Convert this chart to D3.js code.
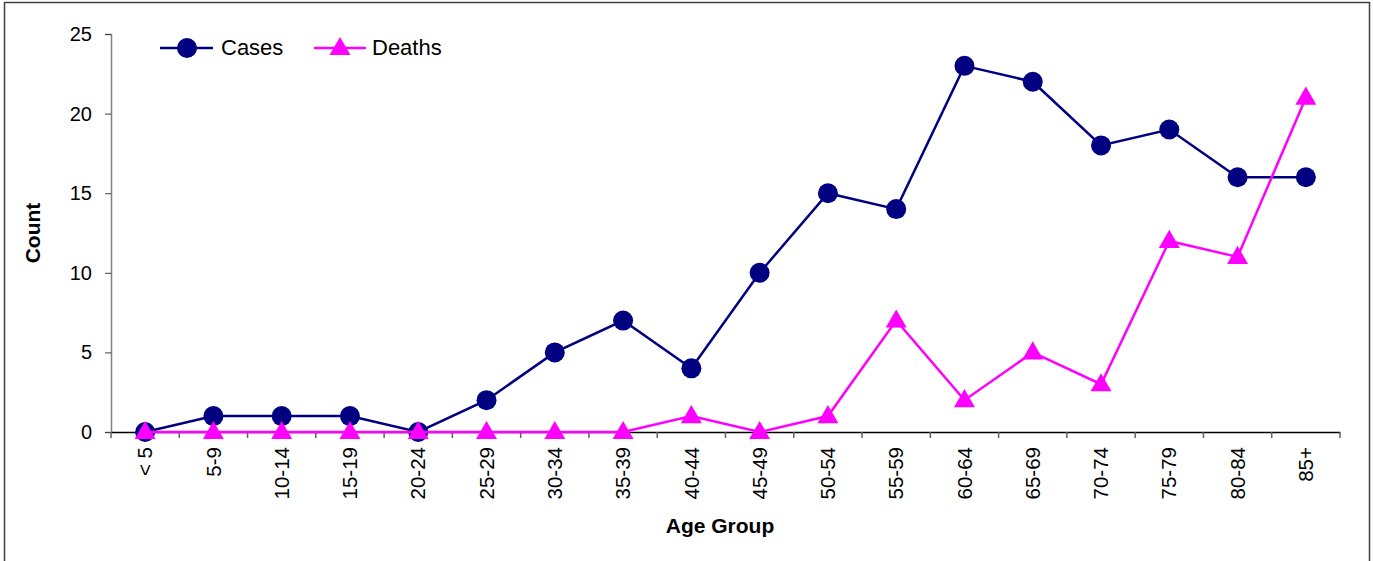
<!DOCTYPE html>
<html><head><meta charset="utf-8">
<script src="https://cdn.jsdelivr.net/npm/d3@7"></script>
<style>body{margin:0;background:#fff}svg{display:block}text{font-family:"Liberation Sans",Arial,sans-serif}</style>
</head><body>
<svg id="c" width="1373" height="561"></svg>
<script>
const categories = ["< 5","5-9","10-14","15-19","20-24","25-29","30-34","35-39","40-44","45-49","50-54","55-59","60-64","65-69","70-74","75-79","80-84","85+"];
const cases = [0,1,1,1,0,2,5,7,4,10,15,14,23,22,18,19,16,16];
const deaths = [0,0,0,0,0,0,0,0,1,0,1,7,2,5,3,12,11,21];
const yTicks = [0,5,10,15,20,25];

const svg = d3.select("#c");
svg.append("rect").attr("x",4.5).attr("y",2.5).attr("width",1365).attr("height",570)
  .attr("fill","#fff").attr("stroke","#404040").attr("stroke-width",1.5);

const x = d3.scaleBand().domain(categories).range([111,1340]);
const y = d3.scaleLinear().domain([0,25]).range([432,34]);

const yAxis = svg.append("g").attr("transform","translate(111,0)")
  .call(d3.axisLeft(y).tickValues(yTicks).tickSize(6).tickPadding(13));
yAxis.select(".domain").attr("stroke","#808080").attr("stroke-width",1.5);
yAxis.selectAll(".tick line").attr("stroke","#404040");
yAxis.selectAll("text").attr("font-size",20).attr("fill","#000");

const xAxis = svg.append("g").attr("transform","translate(0,432)")
  .call(d3.axisBottom(x).tickSize(0).tickSizeOuter(0));
xAxis.select(".domain").attr("stroke","#000").attr("stroke-width",1.5);
xAxis.selectAll(".tick text").attr("font-size",20.5).attr("fill","#000")
  .attr("transform","rotate(-90)").attr("text-anchor","end").attr("x",-15).attr("y",0).attr("dy","0.35em");
// category boundary ticks
const bounds = categories.map(c=>x(c)).concat([x.range()[1]]);
svg.append("g").selectAll("line").data(bounds).join("line")
  .attr("x1",d=>d).attr("x2",d=>d).attr("y1",432).attr("y2",438).attr("stroke","#606060").attr("stroke-width",1.5);

const cx = c => x(c) + x.bandwidth()/2;

// Cases
svg.append("path").datum(cases).attr("fill","none").attr("stroke","#000080").attr("stroke-width",2.5)
  .attr("d", d3.line().x((d,i)=>cx(categories[i])).y(d=>y(d)));
svg.append("g").selectAll("circle").data(cases).join("circle")
  .attr("cx",(d,i)=>cx(categories[i])).attr("cy",d=>y(d)).attr("r",10).attr("fill","#000080");

// Deaths
const tri = d3.symbol().type(d3.symbolTriangle).size(190);
svg.append("path").datum(deaths).attr("fill","none").attr("stroke","#FF00FF").attr("stroke-width",2.5)
  .attr("d", d3.line().x((d,i)=>cx(categories[i])).y(d=>y(d)));
svg.append("g").selectAll("path").data(deaths).join("path")
  .attr("d",tri).attr("transform",(d,i)=>`translate(${cx(categories[i])},${y(d)+1})`).attr("fill","#FF00FF");

// Axis titles
svg.append("text").attr("transform","translate(40,233) rotate(-90)").attr("text-anchor","middle")
  .attr("font-size",21).attr("font-weight","bold").text("Count");
svg.append("text").attr("x",720).attr("y",533).attr("text-anchor","middle")
  .attr("font-size",21).attr("font-weight","bold").text("Age Group");

// Legend
const lg = svg.append("g");
lg.append("line").attr("x1",160).attr("x2",213).attr("y1",48).attr("y2",48).attr("stroke","#000080").attr("stroke-width",2.5);
lg.append("circle").attr("cx",187).attr("cy",48).attr("r",10).attr("fill","#000080");
lg.append("text").attr("x",221).attr("y",55).attr("font-size",22).text("Cases");
lg.append("line").attr("x1",314).attr("x2",366).attr("y1",48).attr("y2",48).attr("stroke","#FF00FF").attr("stroke-width",2.5);
lg.append("path").attr("d",tri).attr("transform","translate(340,49)").attr("fill","#FF00FF");
lg.append("text").attr("x",372).attr("y",55).attr("font-size",22).text("Deaths");
</script>
</body></html>
